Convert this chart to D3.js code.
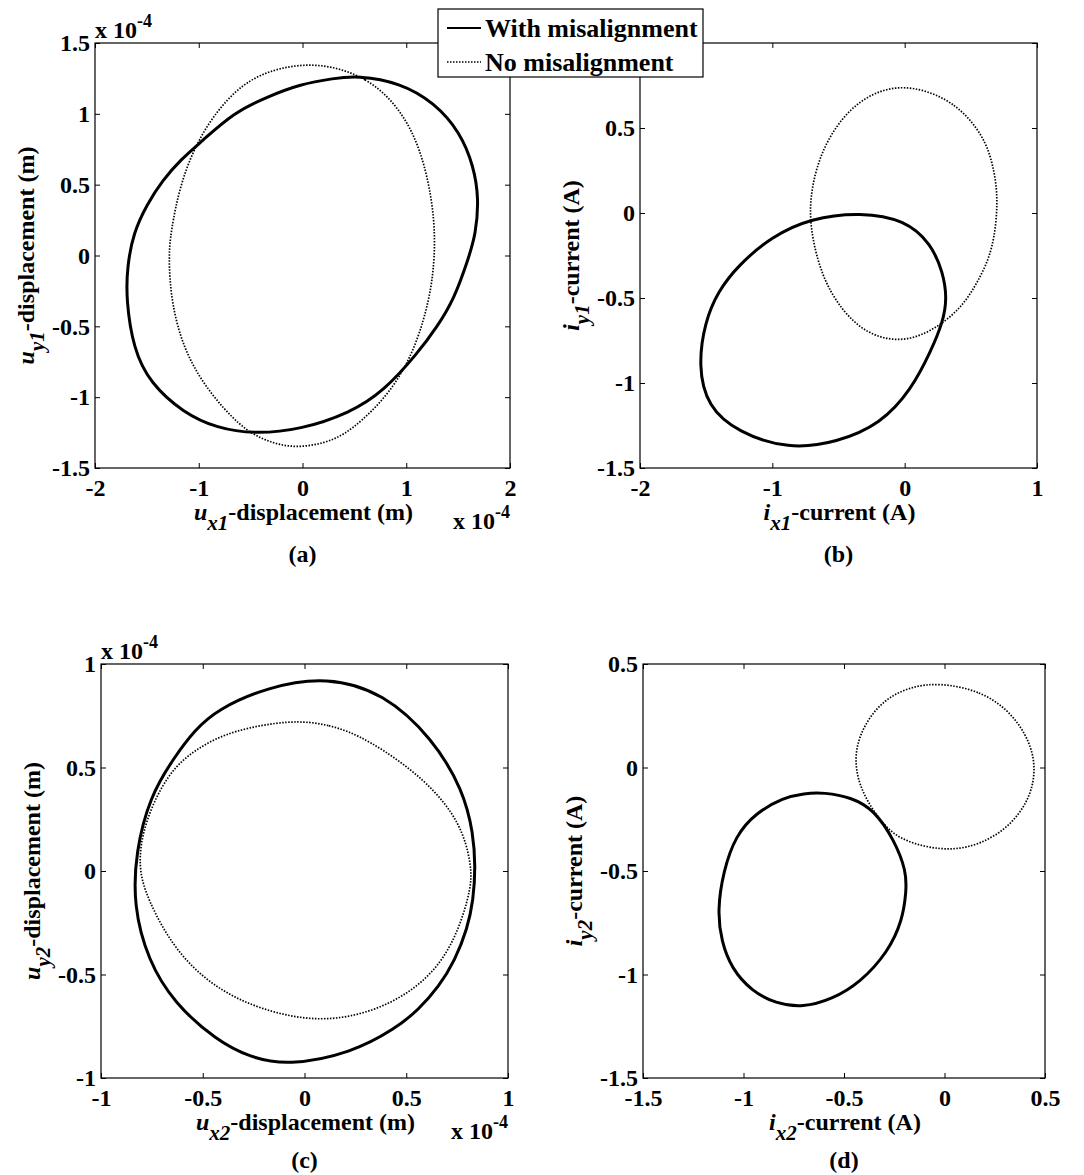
<!DOCTYPE html>
<html>
<head>
<meta charset="utf-8">
<script src="https://cdn.jsdelivr.net/npm/d3@7"></script>
<style>
body { margin: 0; background: #fff; }
svg { display: block; font-family: "Liberation Serif", "Times New Roman", serif; font-weight: bold; }
</style>
</head>
<body>
<svg id="chart" width="1084" height="1175"></svg>
<script>
// orbit points, [x, y] in axis units
var aWith = [[0.53,1.27],[0.94,1.22],[1.27,1.08],[1.52,0.87],[1.65,0.63],[1.70,0.40],[1.67,0.15],[1.60,-0.02],[1.46,-0.31],[1.30,-0.50],[1.11,-0.69],[0.78,-0.96],[0.46,-1.11],[-0.02,-1.23],[-0.47,-1.26],[-0.82,-1.22],[-1.15,-1.11],[-1.47,-0.90],[-1.63,-0.66],[-1.70,-0.31],[-1.69,-0.08],[-1.63,0.16],[-1.50,0.36],[-1.35,0.53],[-1.17,0.68],[-0.98,0.80],[-0.66,1.01],[-0.34,1.12],[-0.02,1.21],[0.30,1.25]];
var aNo = [[0.14,1.37],[0.63,1.26],[0.95,1.03],[1.14,0.75],[1.25,0.40],[1.28,0.11],[1.26,-0.12],[1.22,-0.31],[1.11,-0.61],[0.88,-0.95],[0.46,-1.25],[0.20,-1.33],[-0.09,-1.36],[-0.36,-1.31],[-0.60,-1.21],[-0.92,-0.95],[-1.15,-0.66],[-1.27,-0.31],[-1.29,0.0],[-1.27,0.16],[-1.18,0.51],[-0.98,0.87],[-0.66,1.17],[-0.34,1.31]];
var bWith = [[-0.33,0.005],[0.0,-0.04],[0.20,-0.18],[0.29,-0.35],[0.32,-0.50],[0.29,-0.64],[0.20,-0.81],[0.05,-1.04],[-0.18,-1.24],[-0.51,-1.35],[-0.88,-1.39],[-1.26,-1.29],[-1.49,-1.14],[-1.56,-0.90],[-1.51,-0.64],[-1.41,-0.46],[-1.26,-0.31],[-1.01,-0.14],[-0.71,-0.03]];
var bNo = [[0.07,0.75],[0.39,0.65],[0.60,0.45],[0.67,0.28],[0.71,0.08],[0.67,-0.22],[0.55,-0.41],[0.42,-0.57],[0.18,-0.71],[-0.05,-0.76],[-0.29,-0.71],[-0.48,-0.57],[-0.63,-0.37],[-0.72,-0.08],[-0.71,0.14],[-0.62,0.39],[-0.43,0.61],[-0.19,0.73]];
var cWith = [[0.11,0.94],[0.39,0.86],[0.63,0.64],[0.78,0.39],[0.83,0.18],[0.84,0.02],[0.83,-0.14],[0.80,-0.28],[0.74,-0.43],[0.66,-0.56],[0.56,-0.67],[0.45,-0.76],[0.23,-0.88],[-0.08,-0.94],[-0.27,-0.90],[-0.43,-0.82],[-0.64,-0.64],[-0.77,-0.43],[-0.84,-0.17],[-0.83,0.09],[-0.76,0.36],[-0.64,0.55],[-0.54,0.68],[-0.43,0.78],[-0.18,0.89]];
var cNo = [[-0.07,0.73],[0.12,0.71],[0.31,0.64],[0.60,0.44],[0.77,0.23],[0.82,0.03],[0.82,-0.08],[0.76,-0.28],[0.67,-0.45],[0.52,-0.59],[0.31,-0.69],[0.06,-0.73],[-0.22,-0.67],[-0.45,-0.56],[-0.64,-0.38],[-0.77,-0.14],[-0.82,0.02],[-0.79,0.23],[-0.67,0.48],[-0.52,0.60],[-0.35,0.68]];
var dWith = [[-0.60,-0.12],[-0.46,-0.145],[-0.35,-0.205],[-0.25,-0.35],[-0.19,-0.50],[-0.19,-0.60],[-0.21,-0.74],[-0.28,-0.89],[-0.42,-1.04],[-0.56,-1.12],[-0.705,-1.16],[-0.84,-1.14],[-0.96,-1.08],[-1.06,-0.97],[-1.11,-0.84],[-1.13,-0.69],[-1.10,-0.50],[-1.04,-0.33],[-0.94,-0.22],[-0.80,-0.145],[-0.70,-0.125]];
var dNo = [[-0.025,0.41],[0.18,0.37],[0.33,0.27],[0.43,0.12],[0.455,-0.02],[0.42,-0.16],[0.32,-0.29],[0.18,-0.37],[0.045,-0.40],[-0.10,-0.385],[-0.25,-0.335],[-0.35,-0.22],[-0.43,-0.08],[-0.45,0.07],[-0.40,0.21],[-0.30,0.33],[-0.17,0.39]];

var aXTicks = [-2,-1,0,1,2], aYTicks = [-1.5,-1,-0.5,0,0.5,1,1.5];
var bXTicks = [-2,-1,0,1], bYTicks = [-1.5,-1,-0.5,0,0.5,1];
var cXTicks = [-1,-0.5,0,0.5,1], cYTicks = [-1,-0.5,0,0.5,1];
var dXTicks = [-1.5,-1,-0.5,0,0.5], dYTicks = [-1.5,-1,-0.5,0,0.5];

var seriesNames = ["With misalignment", "No misalignment"];
var panelTags = ["(a)", "(b)", "(c)", "(d)"];

var svg = d3.select("#chart");

var panels = [
  {tag: panelTags[0], box: [95, 43, 510, 468], xd: [-2, 2], yd: [-1.5, 1.5], xt: aXTicks, yt: aYTicks, hide: [],
   curves: [aWith, aNo], xl: ["u", "x1", "-displacement (m)"], yl: ["u", "y1", "-displacement (m)"], expo: true, tagDy: 94},
  {tag: panelTags[1], box: [640, 43, 1037, 468], xd: [-2, 1], yd: [-1.5, 1], xt: bXTicks, yt: bYTicks, hide: [1],
   curves: [bWith, bNo], xl: ["i", "x1", "-current (A)"], yl: ["i", "y1", "-current (A)"], expo: false, tagDy: 94},
  {tag: panelTags[2], box: [101, 664, 508, 1078], xd: [-1, 1], yd: [-1, 1], xt: cXTicks, yt: cYTicks, hide: [],
   curves: [cWith, cNo], xl: ["u", "x2", "-displacement (m)"], yl: ["u", "y2", "-displacement (m)"], expo: true, tagDy: 90},
  {tag: panelTags[3], box: [643, 664, 1045, 1078], xd: [-1.5, 0.5], yd: [-1.5, 0.5], xt: dXTicks, yt: dYTicks, hide: [],
   curves: [dWith, dNo], xl: ["i", "x2", "-current (A)"], yl: ["i", "y2", "-current (A)"], expo: false, tagDy: 90}
];

function fmt(d) { return String(+d.toFixed(2)); }

function label(g, x, y, rot, parts) {
  var t = g.append("text")
    .attr("text-anchor", "middle")
    .attr("font-size", 24)
    .attr("transform", "translate(" + x + "," + y + ")" + (rot ? " rotate(-90)" : ""));
  t.append("tspan").attr("font-style", "italic").text(parts[0]);
  t.append("tspan").attr("font-style", "italic").attr("font-size", 21).attr("dy", 10).text(parts[1]);
  t.append("tspan").attr("dy", -10).text(parts[2]);
}

function expo(g, x, y) {
  var t = g.append("text").attr("x", x).attr("y", y).attr("font-size", 24);
  t.append("tspan").text("x 10");
  t.append("tspan").attr("font-size", 18).attr("dy", -11).text("-4");
}

panels.forEach(function(p) {
  var L = p.box[0], T = p.box[1], R = p.box[2], B = p.box[3];
  var x = d3.scaleLinear().domain(p.xd).range([L, R]);
  var y = d3.scaleLinear().domain(p.yd).range([B, T]);
  var g = svg.append("g");

  g.append("rect").attr("x", L).attr("y", T).attr("width", R - L).attr("height", B - T)
    .attr("fill", "#fff");

  var line = d3.line()
    .x(function(d) { return x(d[0]); })
    .y(function(d) { return y(d[1]); })
    .curve(d3.curveBasisClosed);

  g.append("path").datum(p.curves[1]).attr("d", line)
    .attr("fill", "none").attr("stroke", "#000").attr("stroke-width", 1.7)
    .attr("stroke-dasharray", "1.5 1.5");
  g.append("path").datum(p.curves[0]).attr("d", line)
    .attr("fill", "none").attr("stroke", "#000").attr("stroke-width", 3);

  var ax = function(a) {
    a.attr("font-family", null).attr("font-size", 24).attr("font-weight", "bold");
    a.selectAll("text").attr("fill", "#000");
    a.selectAll("line").attr("stroke", "#000");
    a.select(".domain").remove();
  };
  var yfmt = function(d) { return p.hide.indexOf(d) >= 0 ? "" : fmt(d); };

  g.append("g").attr("transform", "translate(0," + B + ")")
    .call(d3.axisBottom(x).tickValues(p.xt).tickFormat(fmt).tickSizeInner(-5).tickSizeOuter(0).tickPadding(11))
    .call(ax);
  g.append("g").attr("transform", "translate(" + L + ",0)")
    .call(d3.axisLeft(y).tickValues(p.yt).tickFormat(yfmt).tickSizeInner(-5).tickSizeOuter(0).tickPadding(5))
    .call(ax);
  g.append("g").attr("transform", "translate(0," + T + ")")
    .call(d3.axisTop(x).tickValues(p.xt).tickFormat("").tickSizeInner(-5).tickSizeOuter(0))
    .call(ax);
  g.append("g").attr("transform", "translate(" + R + ",0)")
    .call(d3.axisRight(y).tickValues(p.yt).tickFormat("").tickSizeInner(-5).tickSizeOuter(0))
    .call(ax);

  g.append("rect").attr("x", L).attr("y", T).attr("width", R - L).attr("height", B - T)
    .attr("fill", "none").attr("stroke", "#000").attr("stroke-width", 1.2);

  var cx = (L + R) / 2, cy = (T + B) / 2;
  label(g, cx + 1, B + 52, false, p.xl);
  label(g, L - 61, cy, true, p.yl);
  g.append("text").attr("x", cx).attr("y", B + p.tagDy).attr("text-anchor", "middle")
    .attr("font-size", 24).text(p.tag);

  if (p.expo) {
    expo(g, L, T - 5);
    expo(g, R - 57, B + 61);
  }
});

// legend
var lg = svg.append("g");
lg.append("rect").attr("x", 438).attr("y", 9).attr("width", 265).attr("height", 68)
  .attr("fill", "#fff").attr("stroke", "#000").attr("stroke-width", 1.2);
seriesNames.forEach(function(name, i) {
  var yy = 28 + i * 34;
  lg.append("line").attr("x1", 447).attr("x2", 481).attr("y1", yy).attr("y2", yy)
    .attr("stroke", "#000")
    .attr("stroke-width", i === 0 ? 2 : 1.7)
    .attr("stroke-dasharray", i === 0 ? null : "1.5 1.5");
  lg.append("text").attr("x", 485).attr("y", yy + 9).attr("font-size", 26).text(name);
});
</script>
</body>
</html>
